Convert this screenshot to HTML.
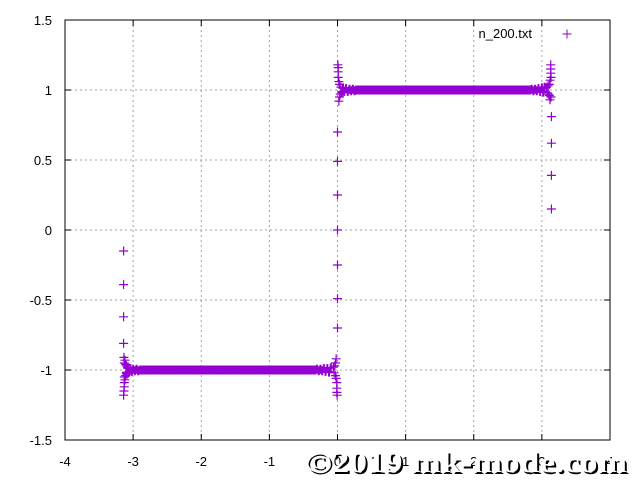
<!DOCTYPE html>
<html><head><meta charset="utf-8"><style>
html,body{margin:0;padding:0;background:#fff;}
svg{display:block;font-family:"Liberation Sans",sans-serif;}
</style></head><body>
<svg id="chart" width="640" height="480" viewBox="0 0 640 480">
<g id="grid"></g>
<g id="ticks"></g>
<g id="points"></g>
<rect x="65" y="20" width="545" height="420" fill="none" stroke="#000" stroke-width="1"/>
<g>
<text x="532" y="38" font-size="13" text-anchor="end">n_200.txt</text>
<path d="M562.5 34h9M567 29.5v9" stroke="#9400d3" stroke-width="1"/>
</g>
<g font-size="30" font-weight="bold" font-family="'Liberation Serif',serif">
<text x="307" y="474" fill="#000" textLength="322" lengthAdjust="spacingAndGlyphs">©2019 mk-mode.com</text>
<text x="305" y="472" fill="#fff" textLength="322" lengthAdjust="spacingAndGlyphs">©2019 mk-mode.com</text>
</g>
</svg>
<script>
const xTicks=[-4,-3,-2,-1,0,1,2,3,4];
const yTicks=[-1.5,-1,-0.5,0,0.5,1,1.5];
const yTickLabels=["-1.5","-1","-0.5","0","0.5","1","1.5"];
const edgeX=[-3.14,-3.14,-3.14,-3.14,-3.135,-3.13,-3.13,-3.13,-3.13,-3.135,-3.14,-3.12,-3.12,-3.11,-3.11,-3.10,-3.09,-3.08,-3.07,
-0.06,-0.05,-0.04,-0.03,-0.03,-0.02,-0.02,-0.01,-0.01,-0.01,-0.005,
0,0,0,0,0,0,0,
0.005,0.01,0.01,0.01,0.02,0.02,0.03,0.03,0.04,0.05,0.06,
3.07,3.08,3.09,3.10,3.11,3.11,3.12,3.12,3.13,3.13,3.13,3.135,3.135,3.14,3.14,3.14,3.14];
const edgeY=[-0.15,-0.39,-0.62,-0.81,-0.91,-0.95,-1.05,-1.09,-1.12,-1.15,-1.18,-0.93,-1.07,-0.96,-1.04,-0.97,-1.03,-0.98,-1.02,
-0.98,-1.02,-0.97,-1.04,-0.95,-1.06,-0.92,-1.09,-1.13,-1.16,-1.18,
0.7,0.49,0.25,0,-0.25,-0.49,-0.7,
1.18,1.16,1.13,1.09,0.92,1.06,0.95,1.04,0.97,1.02,0.98,
1.02,0.98,1.03,0.97,1.04,0.96,1.07,0.93,1.18,1.15,1.12,1.09,0.95,0.81,0.62,0.39,0.15];
const bandLeftX=[-3.10,-3.08,-3.06,-3.04,-3.02,-3.00,-2.975,-2.95,-2.925,-2.90,-2.875,-2.85,-2.825,-2.80,-2.775,-2.75,-2.725,-2.70,-2.675,-2.65,-2.625,-2.60,-2.575,-2.55,-2.525,-2.50,-2.475,-2.45,-2.425,-2.40,-2.375,-2.35,-2.325,-2.30,-2.275,-2.25,-2.225,-2.20,-2.175,-2.15,-2.125,-2.10,-2.075,-2.05,-2.025,-2.00,-1.975,-1.95,-1.925,-1.90,-1.875,-1.85,-1.825,-1.80,-1.775,-1.75,-1.725,-1.70,-1.675,-1.65,-1.625,-1.60,-1.575,-1.55,-1.525,-1.50,-1.475,-1.45,-1.425,-1.40,-1.375,-1.35,-1.325,-1.30,-1.275,-1.25,-1.225,-1.20,-1.175,-1.15,-1.125,-1.10,-1.075,-1.05,-1.025,-1.00,-0.975,-0.95,-0.925,-0.90,-0.875,-0.85,-0.825,-0.80,-0.775,-0.75,-0.725,-0.70,-0.675,-0.65,-0.625,-0.60,-0.575,-0.55,-0.525,-0.50,-0.475,-0.45,-0.425,-0.40,-0.375,-0.35,-0.325,-0.30,-0.275,-0.25,-0.225,-0.20,-0.175,-0.15,-0.125,-0.10,-0.08,-0.07];
const bandLeftY=[-1.02,-0.985,-1.015,-0.99,-1.01,-0.995,-1.005,-0.995,-1.005,-1,-1,-1,-1,-1,-1,-1,-1,-1,-1,-1,-1,-1,-1,-1,-1,-1,-1,-1,-1,-1,-1,-1,-1,-1,-1,-1,-1,-1,-1,-1,-1,-1,-1,-1,-1,-1,-1,-1,-1,-1,-1,-1,-1,-1,-1,-1,-1,-1,-1,-1,-1,-1,-1,-1,-1,-1,-1,-1,-1,-1,-1,-1,-1,-1,-1,-1,-1,-1,-1,-1,-1,-1,-1,-1,-1,-1,-1,-1,-1,-1,-1,-1,-1,-1,-1,-1,-1,-1,-1,-1,-1,-1,-1,-1,-1,-1,-1,-1,-1,-1,-1,-1,-1,-0.995,-1.005,-0.995,-1.005,-0.99,-1.01,-0.99,-1.015,-0.985];
const bandRightX=[0.07,0.08,0.10,0.125,0.15,0.175,0.20,0.225,0.25,0.275,0.30,0.325,0.35,0.375,0.40,0.425,0.45,0.475,0.50,0.525,0.55,0.575,0.60,0.625,0.65,0.675,0.70,0.725,0.75,0.775,0.80,0.825,0.85,0.875,0.90,0.925,0.95,0.975,1.00,1.025,1.05,1.075,1.10,1.125,1.15,1.175,1.20,1.225,1.25,1.275,1.30,1.325,1.35,1.375,1.40,1.425,1.45,1.475,1.50,1.525,1.55,1.575,1.60,1.625,1.65,1.675,1.70,1.725,1.75,1.775,1.80,1.825,1.85,1.875,1.90,1.925,1.95,1.975,2.00,2.025,2.05,2.075,2.10,2.125,2.15,2.175,2.20,2.225,2.25,2.275,2.30,2.325,2.35,2.375,2.40,2.425,2.45,2.475,2.50,2.525,2.55,2.575,2.60,2.625,2.65,2.675,2.70,2.725,2.75,2.775,2.80,2.825,2.85,2.875,2.90,2.925,2.95,2.975,3.00,3.02,3.04,3.06,3.08,3.10];
const bandRightY=[0.985,1.015,0.99,1.01,0.99,1.005,0.995,1.005,0.995,1,1,1,1,1,1,1,1,1,1,1,1,1,1,1,1,1,1,1,1,1,1,1,1,1,1,1,1,1,1,1,1,1,1,1,1,1,1,1,1,1,1,1,1,1,1,1,1,1,1,1,1,1,1,1,1,1,1,1,1,1,1,1,1,1,1,1,1,1,1,1,1,1,1,1,1,1,1,1,1,1,1,1,1,1,1,1,1,1,1,1,1,1,1,1,1,1,1,1,1,1,1,1,1.005,0.995,1.005,0.995,1.01,0.99,1.015,0.985,1.02];
const NS="http://www.w3.org/2000/svg";
function sx(v){return 65+(v+4)*545/8;}
function sy(v){return 440-(v+1.5)*420/3;}
const grid=document.getElementById('grid'),ticks=document.getElementById('ticks'),pts=document.getElementById('points');
xTicks.forEach(function(t){
  const x=sx(t);
  if(t>-4&&t<4){const g=document.createElementNS(NS,'line');
  
  
  g.setAttribute('x1',x);g.setAttribute('x2',x);g.setAttribute('y1',20);g.setAttribute('y2',440);
  g.setAttribute('stroke','#a0a0a0');g.setAttribute('stroke-dasharray','2,3');grid.appendChild(g);}
  const tl=document.createElementNS(NS,'text');
  
  
  tl.setAttribute('x',x);tl.setAttribute('y',466);tl.setAttribute('font-size','13');tl.setAttribute('text-anchor','middle');
  tl.textContent=t;ticks.appendChild(tl);
  const tk=document.createElementNS(NS,'path');
  
  
  tk.setAttribute('d','M'+x+' 440v-6M'+x+' 20v6');tk.setAttribute('stroke','#000');ticks.appendChild(tk);
});
yTicks.forEach(function(t,i){
  const y=sy(t);
  if(t>-1.5&&t<1.5){const g=document.createElementNS(NS,'line');
  
  
  g.setAttribute('x1',65);g.setAttribute('x2',610);g.setAttribute('y1',y);g.setAttribute('y2',y);
  g.setAttribute('stroke','#a0a0a0');g.setAttribute('stroke-dasharray','2,3');grid.appendChild(g);}
  const tl=document.createElementNS(NS,'text');
  
  
  tl.setAttribute('x',52);tl.setAttribute('y',y+5);tl.setAttribute('font-size','13');tl.setAttribute('text-anchor','end');
  tl.textContent=yTickLabels[i];ticks.appendChild(tl);
  const tk=document.createElementNS(NS,'path');
  
  
  tk.setAttribute('d','M65 '+y+'h6M610 '+y+'h-6');tk.setAttribute('stroke','#000');ticks.appendChild(tk);
});
function plot(xs,ys,w){
  for(let i=0;i<xs.length;i++){
    const x=sx(xs[i]),y=sy(ys[i]);
    const p=document.createElementNS(NS,'path');
    
    
    p.setAttribute('d','M'+(x-4.5)+' '+y+'h9M'+x+' '+(y-4.5)+'v9');
    p.setAttribute('stroke','#9400d3');p.setAttribute('stroke-width',w);
    pts.appendChild(p);
  }
}
plot(bandLeftX,bandLeftY,2);
plot(bandRightX,bandRightY,2);
plot(edgeX,edgeY,1.2);
</script>
</body></html>
